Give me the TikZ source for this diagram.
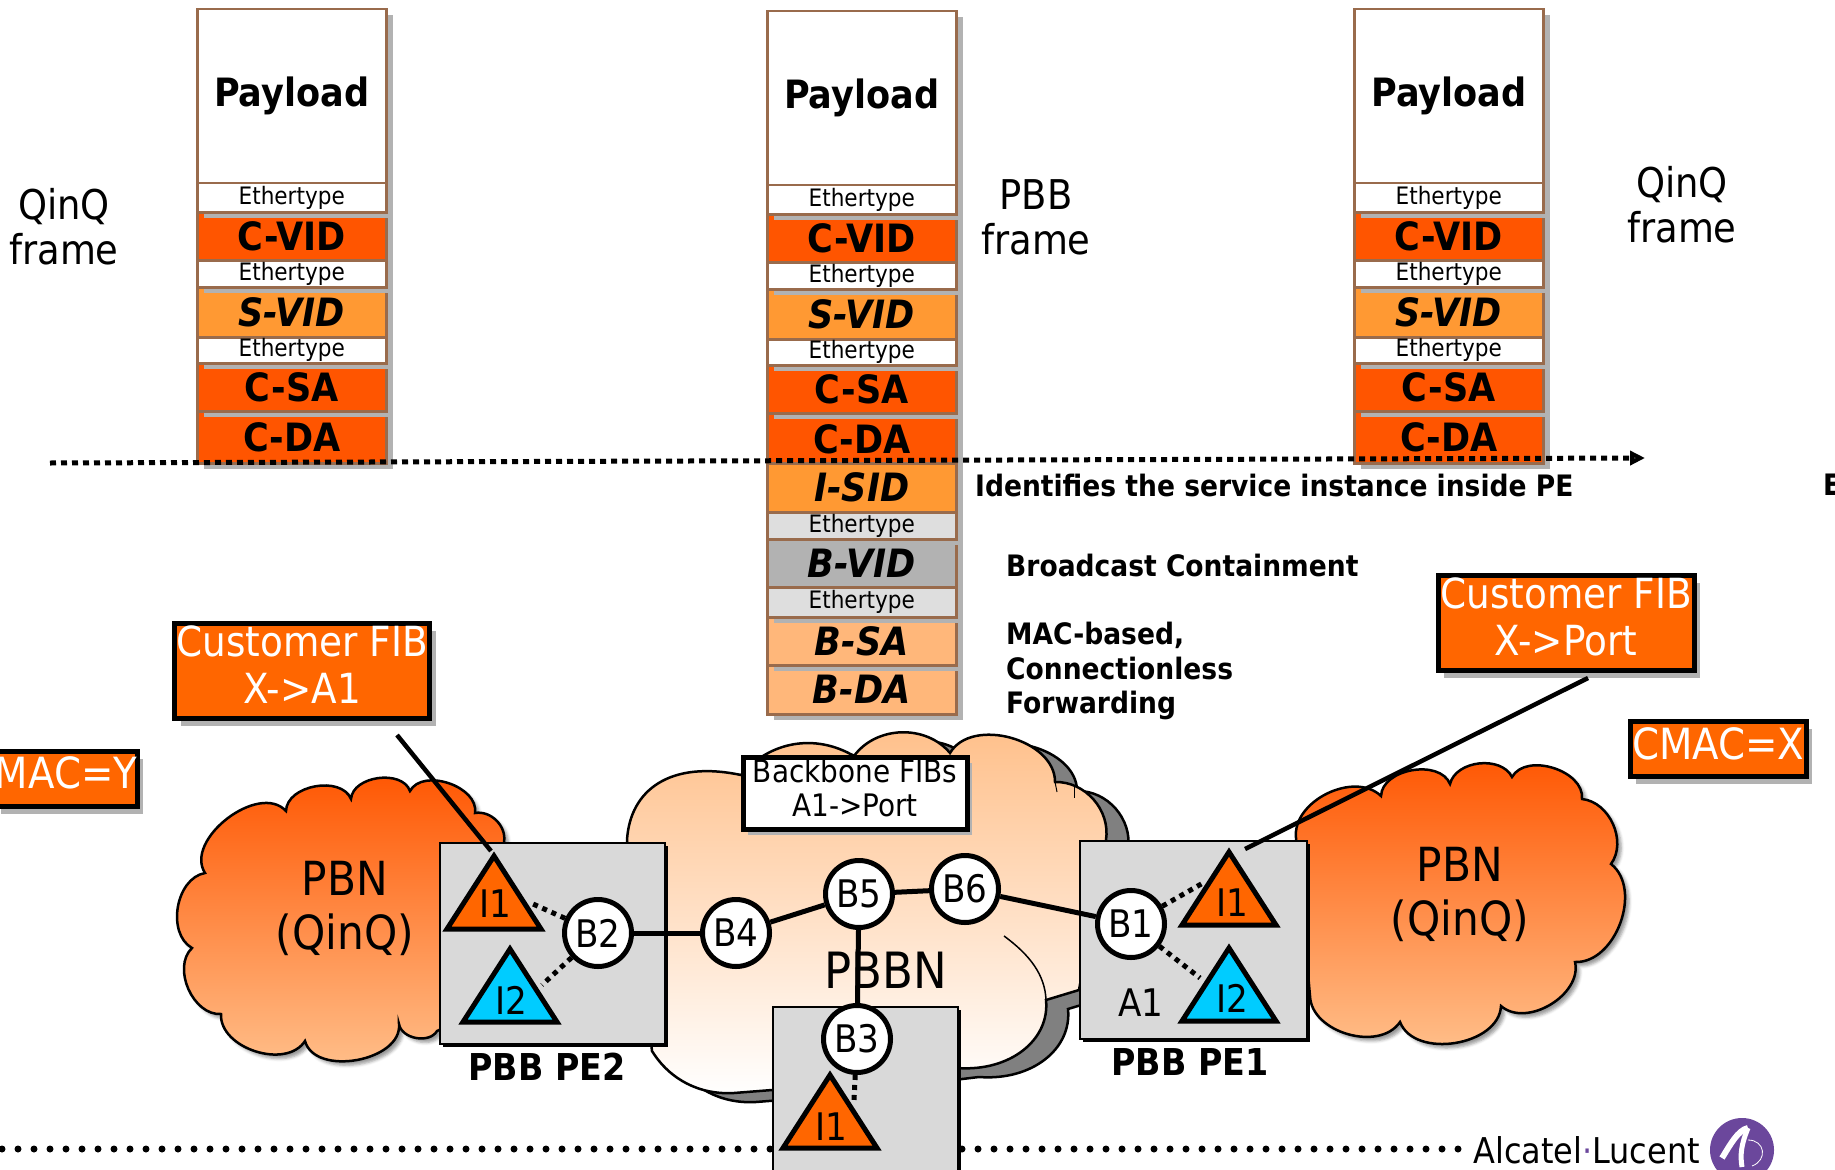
\documentclass[tikz,border=0pt]{standalone}
\usepackage{fontspec}
\setmainfont{DejaVu Sans Condensed}
\usetikzlibrary{arrows.meta,shadows,shadows.blur}
\definecolor{edgebrown}{HTML}{996B4C}
\definecolor{custorange}{HTML}{FF5500}
\definecolor{svidorange}{HTML}{FF9933}
\definecolor{fiborange}{HTML}{FF6600}
\definecolor{bsapeach}{HTML}{FFB77A}
\definecolor{pecyan}{HTML}{00CCFF}
\definecolor{logopurple}{HTML}{6B479C}
\def\fsize#1{\fontsize{#1}{#1}\selectfont}
\def\itriangle[#1](#2,#3){\draw[tri,fill=#1] (#2,#3+5) -- ++(-47,73) -- ++(94,0) -- cycle;}
\def\putrows#1{\foreach \rn/\rt/\rb/\rs/\rl in {#1}{
		\node[\rs, minimum height={(\rb-\rt)*1pt}] (\fn\rn) at (\fx,{\rt+\fy}) {\rl};
	}}
\tikzset{
	field/.style={draw=edgebrown, line width=2.5pt, anchor=north west, inner sep=0pt, minimum width=189pt,
		general shadow={shadow xshift=7pt, shadow yshift=-6pt, fill=black!30}},
	payfield/.style={field, fill=white, font=\bfseries\fsize{39}},
	ethfield/.style={field, fill=white, font=\fsize{24}},
	cfield/.style={field, fill=custorange, font=\bfseries\fsize{39}},
	sfield/.style={field, fill=svidorange, font=\bfseries\itshape\fsize{39}},
	gethfield/.style={field, fill=black!13, font=\fsize{24}},
	bvfield/.style={field, fill=black!30, font=\bfseries\itshape\fsize{39}},
	bafield/.style={field, fill=bsapeach, font=\bfseries\itshape\fsize{39}},
	fibbox/.style={draw, fill=fiborange, line width=5pt, inner sep=0pt, text=white, align=center,
		general shadow={shadow xshift=6pt, shadow yshift=-7pt, fill=black!30}},
	pebox/.style={draw, fill=black!15, line width=2pt, anchor=north west, inner sep=0pt,
		general shadow={shadow xshift=3pt, shadow yshift=-3pt, fill=black}},
	bnode/.style={circle, draw, fill=white, line width=5pt, minimum size=67pt, inner sep=0pt, font=\fsize{38}},
	tri/.style={draw, line width=5pt},
	tlabel/.style={inner sep=0pt, font=\fsize{38}},
	link/.style={line width=5pt},
	dotlink/.style={line width=5pt, dash pattern=on 5pt off 5pt},
	cloudside/.style={draw, line width=2.5pt, top color=custorange, bottom color=bsapeach!85!white,
		blur shadow={shadow xshift=4pt, shadow yshift=-4pt, shadow blur radius=3pt}},
	side/.style={inner sep=0pt, align=center, font=\fontsize{41}{45}\selectfont},
	pbnlabel/.style={inner sep=0pt, align=center, font=\fontsize{47}{54}\selectfont},
	note/.style={inner sep=0pt, anchor=west, align=left, font=\bfseries\fsize{29.5}},
}
\begin{document}
\begin{tikzpicture}[x=1pt,y=-1pt]
		\useasboundingbox (0,0) rectangle (1835,1169);
		\clip (0,0) rectangle (1835,1169);
		
		%%%%% backbone cloud and its dark copy %%%%%
		\def\pbbnpath{(627,840) .. controls (630,790) and (670,760) .. (741,775)
			to[bend left=40] (854,756) to[bend left=52] (950,753) to[bend left=75] (1055,782) to[bend left=50] (1106,840)
			-- (1079,990) -- (1046,1000) .. controls (1050,1040) and (1010,1072) .. (957,1068)
			-- (772,1090) -- (734,1093) .. controls (700,1095) and (670,1080) .. (652,1051) -- cycle}
		\draw[line width=2.5pt, fill=black!50, shift={(22,9)}] \pbbnpath;
		\draw[line width=2.5pt, top color=bsapeach!90!white, bottom color=white] \pbbnpath;
		\draw[line width=1.5pt] (1004,936) .. controls (1030,955) and (1045,975) .. (1046,1000);
		\draw[line width=1pt] (1055,782) -- (1057,792);
		\draw[line width=1pt] (1074,787) -- (1074,798);
		
		%%%%% customer clouds %%%%%
		\draw[cloudside] (205,873) to[bend left=85] (286,811) to[bend left=78] (351,799) to[bend left=78] (410,791)
			to[bend left=80] (475,813) to[bend left=55] (504,842) -- (504,1000) -- (437,1031) to[bend left=70] (399,1024)
			to[bend left=85] (305,1041) to[bend left=75] (221,1014) to[bend left=70] (192,948) to[bend left=70] (205,873) -- cycle;
		\draw[cloudside] (1296,838) to[bend left=70] (1381,796) to[bend left=78] (1450,784) to[bend left=70] (1512,777)
			to[bend left=78] (1582,799) to[bend left=60] (1611,864) to[bend left=72] (1575,962) to[bend left=72] (1501,1006)
			to[bend left=78] (1400,1022) to[bend left=72] (1310,996) -- cycle;
		
		\node[pbnlabel] (pbnl) at (345,908) {PBN\\(QinQ)};
		\node[pbnlabel] (pbnr) at (1460,894) {PBN\\(QinQ)};
		
		%%%%% frames, orange fields first and ethertypes over their shadows %%%%%
		\foreach \fx/\fy/\fn in {196/0/a,766/2/b,1353/0/c}{
			\if b\fn
				\putrows{bda/662/711/bafield/B-DA, bsa/614/662/bafield/B-SA, bvid/536/584/bvfield/B-VID}
			\fi
			\putrows{cda/410/462/cfield/C-DA, csa/362/410/cfield/C-SA, svid/286/336/sfield/S-VID,
				cvid/211/259/cfield/C-VID, pay/8/182/payfield/Payload}
			\if b\fn
				\putrows{isid/460/509/sfield/I-SID, etb/584/614/gethfield/Ethertype, eta/509/536/gethfield/Ethertype}
			\fi
			\putrows{ety/336/362/ethfield/Ethertype, etx/259/286/ethfield/Ethertype, etw/182/211/ethfield/Ethertype}
		}
		
		\node[side] (qinql) at (64,227) {QinQ\\frame};
		\node[side] (pbbf) at (1036,217) {PBB\\frame};
		\node[side] (qinqr) at (1682,205) {QinQ\\frame};
		
		\coordinate (custstart) at (50,463);
		\coordinate (custend) at (1645,458);
		\draw[line width=5pt, dash pattern=on 6pt off 5pt, -{Triangle[length=15pt,width=14pt]}] (custstart) -- (custend);
		
		\node[note] (isidnote) at (975,485) {Identifies the service instance inside PE};
		\node[note] (cutnote) at (1823,485) {E};
		\node[note] (bvidnote) at (1006,565) {Broadcast Containment};
		\node[note, font=\bfseries\fontsize{29.5}{34.5}\selectfont] (banote) at (1006,671) {MAC-based,\\Connectionless\\Forwarding};
		
		%%%%% bottom row of dots %%%%%
		\coordinate (dotstart) at (2,1149);
		\coordinate (dotend) at (1465,1149);
		\draw[line width=7pt, line cap=round, dash pattern=on 0pt off 16pt] (dotstart) -- (dotend);
		
		%%%%% PE boxes %%%%%
		\node[pebox, minimum width=225pt, minimum height=201pt] (pe2box) at (439,842) {};
		\node[pebox, minimum width=227pt, minimum height=198pt] (pe1box) at (1079,840) {};
		\node[pebox, minimum width=185pt, minimum height=180pt, general shadow={fill=none}] (b3box) at (772,1006) {};
		
		\node[draw, fill=white, line width=5pt, inner sep=0pt, align=center, minimum width=224pt, minimum height=72pt,
			font=\fontsize{31}{34}\selectfont, text depth=10.5pt, general shadow={shadow xshift=5pt, shadow yshift=-6pt, fill=black!30}] (fibbb) at (855,793) {Backbone FIBs\\A1->Port};
		\node[fibbox, minimum width=255pt, minimum height=95pt, font=\fontsize{41.5}{47}\selectfont, text depth=13.5pt] (fibl) at (302,671) {Customer FIB\\X->A1};
		\node[fibbox, minimum width=256pt, minimum height=95pt, font=\fontsize{41.5}{47}\selectfont, text depth=13.5pt] (fibr) at (1566,623) {Customer FIB\\X->Port};
		\node[fibbox, minimum width=140pt, minimum height=55pt, font=\fsize{43}, text depth=13pt] (cmacy) at (66,779) {MAC=Y};
		\node[fibbox, minimum width=176pt, minimum height=55pt, font=\fsize{43}, text depth=10pt] (cmacx) at (1718,749) {CMAC=X};
		
		%%%%% bridges %%%%%
		\node[bnode] (b2) at (598,933) {B2};
		\node[bnode] (b4) at (736,933) {B4};
		\node[bnode] (b5) at (859,894) {B5};
		\node[bnode] (b6) at (965,889) {B6};
		\node[bnode] (b3) at (857,1039) {B3};
		\node[bnode] (b1) at (1131,924) {B1};
		
		\draw[link] (b2) -- (b4);
		\draw[link] (b4) -- (b5);
		\draw[link] (b5) -- (b6);
		\draw[link] (b6) -- (b1);
		\node[inner sep=0pt, font=\fsize{50}] (pbbn) at (886,970) {PBBN};
		\draw[link] (b5) -- (b3);
		
		\coordinate (pe2ione) at (533,904);
		\coordinate (pe2itwo) at (542,985);
		\coordinate (pe1ione) at (1203,883);
		\coordinate (pe1itwo) at (1200,978);
		\coordinate (b3ione) at (854,1100);
		\draw[dotlink] (b2) -- (pe2ione);
		\draw[dotlink] (b2) -- (pe2itwo);
		\draw[dotlink] (b1) -- (pe1ione);
		\draw[dotlink] (b1) -- (pe1itwo);
		\draw[dotlink] (b3) -- (b3ione);
		
		%%%%% instances %%%%%
		\itriangle[fiborange](494,851)
		\itriangle[pecyan](510,944)
		\itriangle[fiborange](1229,847)
		\itriangle[pecyan](1229,943)
		\itriangle[fiborange](830,1070)
		\node[tlabel] (pe2ionet) at (495,904) {I1};
		\node[tlabel] (pe2itwot) at (511,1000) {I2};
		\node[tlabel] (pe1ionet) at (1232,903) {I1};
		\node[tlabel] (pe1itwot) at (1232,998) {I2};
		\node[tlabel] (b3ionet) at (831,1127) {I1};
		\node[tlabel] (aone) at (1141,1003) {A1};
		\node[inner sep=0pt, font=\bfseries\fsize{37}] (pe2name) at (547,1067) {PBB PE2};
		\node[inner sep=0pt, font=\bfseries\fsize{37}] (pe1name) at (1190,1062) {PBB PE1};
		
		%%%%% callout lines %%%%%
		\coordinate (fiblend) at (397,735);
		\coordinate (pe2apex) at (491,851);
		\coordinate (fibrend) at (1588,678);
		\coordinate (pe1apex) at (1245,849);
		\draw[line width=4.5pt] (fiblend) -- (pe2apex);
		\draw[line width=4.5pt] (fibrend) -- (pe1apex);
		
		%%%%% logo %%%%%
		\node[inner sep=0pt, anchor=east, font=\fsize{35.5}] (lucent) at (1700,1150) {Alcatel{\color{logopurple}·}Lucent};
		\fill[logopurple] (1742,1150) circle (32pt);
		\draw[white, line width=6pt] (1722,1158) .. controls (1730,1145) and (1738,1130) .. (1748,1128);
		\draw[white, line width=5pt] (1748,1128) .. controls (1741,1145) and (1740,1155) .. (1742,1167);
		\draw[white, line width=0.8pt] (1748,1140) .. controls (1765,1140) and (1768,1160) .. (1752,1166);
\end{tikzpicture}
\end{document}
